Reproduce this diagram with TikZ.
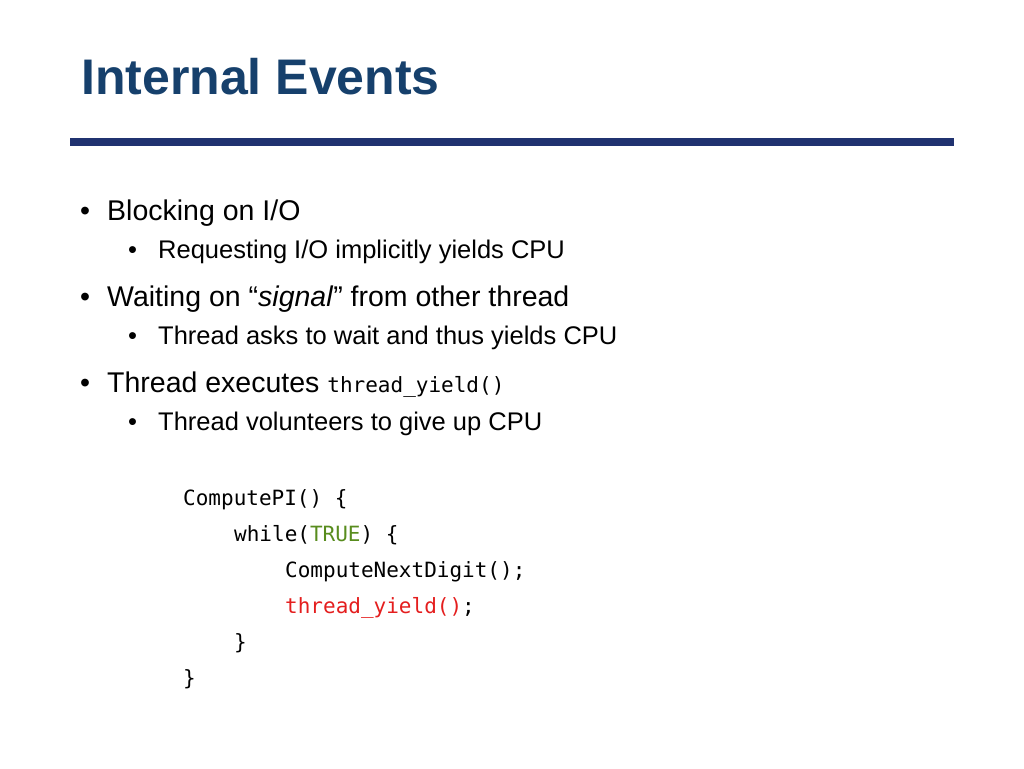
\documentclass[tikz,border=0pt]{standalone}
\usepackage{fontspec}
\setmainfont{Liberation Sans}
\setmonofont{DejaVu Sans Mono}
\usepackage{xcolor}
\definecolor{titleblue}{RGB}{22,64,108}
\definecolor{rulenavy}{RGB}{32,50,112}
\definecolor{codegreen}{RGB}{88,140,30}
\definecolor{codered}{RGB}{228,30,30}
\begin{document}
\begin{tikzpicture}[x=1pt,y=-1pt]
	\tikzstyle{lone}=[anchor=base west,inner sep=0pt,font=\fontsize{28.5}{32}\selectfont];
	\tikzstyle{ltwo}=[anchor=base west,inner sep=0pt,font=\fontsize{25.5}{28}\selectfont];
	\tikzstyle{code}=[anchor=base west,inner sep=0pt,font=\fontsize{21}{26}\ttfamily];
	\useasboundingbox (0,0) rectangle (1024,768);
	%%
	\node[anchor=base west,inner sep=0pt,text=titleblue,font=\fontsize{50}{56}\bfseries] (title) at (81,94) {Internal Events};
	\fill[rulenavy] (70,138) rectangle (954,146);
	%%
	\foreach \y in {220,306,392} \node[lone] at (80,\y) {\textbullet};
	\foreach \y in {258,344,430} \node[ltwo] at (128,\y) {\textbullet};
	\node[lone] (b1) at (107,220) {Blocking on I/O};
	\node[ltwo] (b1a) at (158,258) {Requesting I/O implicitly yields CPU};
	\node[lone] (b2) at (107,306) {Waiting on “\textit{signal}” from other thread};
	\node[ltwo] (b2a) at (158,344) {Thread asks to wait and thus yields CPU};
	\node[lone] (b3) at (107,392) {Thread executes {\fontsize{21}{24}\ttfamily thread\_yield()}};
	\node[ltwo] (b3a) at (158,430) {Thread volunteers to give up CPU};
	%%
	\node[code] (c1) at (183,505) {ComputePI() \{};
	\node[code] (c2) at (234,541) {while(\textcolor{codegreen}{TRUE}) \{};
	\node[code] (c3) at (285,577) {ComputeNextDigit();};
	\node[code] (c4) at (285,613) {\textcolor{codered}{thread\_yield()};};
	\node[code] (c5) at (234,649) {\}};
	\node[code] (c6) at (183,685) {\}};
\end{tikzpicture}
\end{document}
